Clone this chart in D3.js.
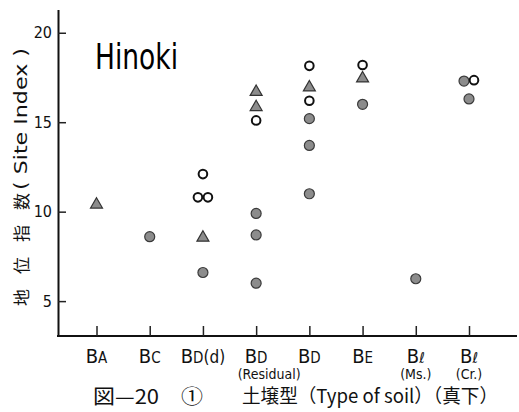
<!DOCTYPE html>
<html>
<head>
<meta charset="utf-8">
<script src="https://cdn.jsdelivr.net/npm/d3@7/dist/d3.min.js"></script>
<style>
  html, body { margin: 0; padding: 0; background: #fff; }
  svg { display: block; }
</style>
</head>
<body>
<svg id="chart" width="519" height="412"></svg>
<script>
// Soil types along the horizontal axis
const soilTypes = ["BA", "BC", "BD(d)", "BD(Residual)", "BD", "BE", "Bl(Ms.)", "Bl(Cr.)"];
// Tick label pieces: large letter, small letter, suffix, second line
const labelMain = ["B", "B", "B", "B", "B", "B", "B", "B"];
const labelSub = ["A", "C", "D", "D", "D", "E", "ℓ", "ℓ"];
const labelSuffix = ["", "", "(d)", "", "", "", "", ""];
const labelNote = ["", "", "", "(Residual)", "", "", "(Ms.)", "(Cr.)"];

// Site index observations, one list per marker kind: [soil type, site index]
const filledCircles = [
  ["BC", 8.6],
  ["BD(d)", 6.6],
  ["BD(Residual)", 9.9], ["BD(Residual)", 8.7], ["BD(Residual)", 6.0],
  ["BD", 15.2], ["BD", 13.7], ["BD", 11.0],
  ["BE", 16.0],
  ["Bl(Ms.)", 6.25],
  ["Bl(Cr.)", 17.3], ["Bl(Cr.)", 16.3]
];
const openCircles = [
  ["BD(d)", 12.1], ["BD(d)", 10.8], ["BD(d)", 10.8],
  ["BD(Residual)", 15.1],
  ["BD", 18.15], ["BD", 16.2],
  ["BE", 18.2],
  ["Bl(Cr.)", 17.35]
];
const triangles = [
  ["BA", 10.45],
  ["BD(d)", 8.6],
  ["BD(Residual)", 16.75], ["BD(Residual)", 15.9],
  ["BD", 17.0],
  ["BE", 17.5]
];

const yTicks = [5, 10, 15, 20];

const svg = d3.select("#chart");
const axisX = 58;

const x = d3.scalePoint().domain(soilTypes).range([96.5, 469]);
const y = d3.scaleLinear().domain([3.05, 21.3]).range([336, 9.5]);

// Vertical axis with inward ticks
const gy = svg.append("g").attr("transform", `translate(${axisX},0)`)
  .call(d3.axisLeft(y).tickValues(yTicks).tickSize(-8).tickSizeOuter(0).tickPadding(6));
gy.select(".domain").attr("stroke", "#111").attr("stroke-width", 2);
gy.selectAll(".tick line").attr("stroke", "#222").attr("stroke-width", 1.5);
gy.selectAll(".tick text")
  .attr("font-family", "'DejaVu Sans Condensed', 'DejaVu Sans', sans-serif")
  .attr("font-size", 16).attr("fill", "#111");

// Horizontal axis: baseline plus upward ticks
const baseY = y.range()[0];
svg.append("line")
  .attr("x1", axisX - 1).attr("x2", 517)
  .attr("y1", baseY).attr("y2", baseY)
  .attr("stroke", "#111").attr("stroke-width", 2);
const gx = svg.append("g").attr("transform", `translate(0,${baseY})`)
  .call(d3.axisBottom(x).tickSize(-10).tickSizeOuter(0).tickFormat(""));
gx.select(".domain").remove();
gx.selectAll(".tick line").attr("stroke", "#222").attr("stroke-width", 1.5);

// Category labels
const labelFont = "'DejaVu Sans Condensed', 'DejaVu Sans', sans-serif";
const lbl = svg.append("g");
soilTypes.forEach((s, i) => {
  const t = lbl.append("text")
    .attr("x", x(s)).attr("y", 363)
    .attr("text-anchor", "middle")
    .attr("font-family", labelFont).attr("fill", "#111");
  t.append("tspan").attr("font-size", 20).text(labelMain[i]);
  t.append("tspan").attr("font-size", 15).text(labelSub[i]);
  if (labelSuffix[i]) t.append("tspan").attr("font-size", 17).text(labelSuffix[i]);
  if (labelNote[i]) {
    lbl.append("text")
      .attr("x", x(s) + (labelNote[i].length > 6 ? 13 : 0)).attr("y", 379)
      .attr("text-anchor", "middle")
      .attr("font-family", labelFont).attr("font-size", 14).attr("fill", "#111")
      .text(labelNote[i]);
  }
});

// Combine the marker lists and spread coincident points sideways
const points = [];
filledCircles.forEach(d => points.push({ soil: d[0], v: d[1], kind: "filled" }));
openCircles.forEach(d => points.push({ soil: d[0], v: d[1], kind: "open" }));
triangles.forEach(d => points.push({ soil: d[0], v: d[1], kind: "tri" }));
d3.group(points, d => d.soil).forEach(list => {
  list.forEach(p => {
    const close = list.filter(q => Math.abs(q.v - p.v) < 0.35);
    const k = close.indexOf(p);
    p.dx = close.length > 1 ? (k - (close.length - 1) / 2) * 10 : 0;
  });
});

const marks = svg.append("g");
marks.selectAll("circle.filled")
  .data(points.filter(p => p.kind === "filled"))
  .join("circle").attr("class", "filled")
  .attr("cx", d => x(d.soil) + d.dx).attr("cy", d => y(d.v))
  .attr("r", 5).attr("fill", "#8c8c8c").attr("stroke", "#3a3a3a").attr("stroke-width", 1.2);
marks.selectAll("circle.open")
  .data(points.filter(p => p.kind === "open"))
  .join("circle").attr("class", "open")
  .attr("cx", d => x(d.soil) + d.dx).attr("cy", d => y(d.v))
  .attr("r", 4.3).attr("fill", "#fff").attr("stroke", "#111").attr("stroke-width", 2);
const tri = d3.symbol().type(d3.symbolTriangle).size(62);
marks.selectAll("path.tri")
  .data(points.filter(p => p.kind === "tri"))
  .join("path").attr("class", "tri")
  .attr("d", tri)
  .attr("transform", d => `translate(${x(d.soil) + d.dx},${y(d.v) + 1})`)
  .attr("fill", "#8c8c8c").attr("stroke", "#333").attr("stroke-width", 1.2);

// Species name
svg.append("text")
  .attr("x", 95).attr("y", 69)
  .attr("font-family", "'Liberation Sans Narrow', 'DejaVu Sans Condensed', sans-serif").attr("font-size", 35)
  .attr("textLength", 83).attr("lengthAdjust", "spacingAndGlyphs")
  .attr("fill", "#000")
  .text("Hinoki");

// Vertical axis title
const yt = svg.append("g").attr("transform", "translate(28,306) rotate(-90)");
yt.append("text")
  .attr("x", 0).attr("y", 0)
  .attr("font-family", "'Noto Sans CJK JP', sans-serif").attr("font-size", 17)
  .attr("letter-spacing", 15).attr("fill", "#111")
  .text("地位指数");
yt.append("text")
  .attr("x", 116).attr("y", -1)
  .attr("font-family", "'DejaVu Sans', sans-serif").attr("font-size", 18)
  .attr("textLength", 142).attr("lengthAdjust", "spacingAndGlyphs")
  .attr("fill", "#111")
  .text("( Site Index )");

// Figure caption and axis title
svg.append("text")
  .attr("x", 93).attr("y", 404)
  .attr("font-family", "'Noto Sans CJK JP', sans-serif").attr("font-size", 20)
  .attr("textLength", 110).attr("lengthAdjust", "spacingAndGlyphs")
  .attr("fill", "#111")
  .text("図—20　①");
svg.append("text")
  .attr("x", 242).attr("y", 403)
  .attr("font-family", "'Noto Sans CJK JP', sans-serif").attr("font-size", 19)
  .attr("textLength", 256).attr("lengthAdjust", "spacingAndGlyphs")
  .attr("fill", "#111")
  .text("土壌型（Type of soil）（真下）");
</script>
</body>
</html>
